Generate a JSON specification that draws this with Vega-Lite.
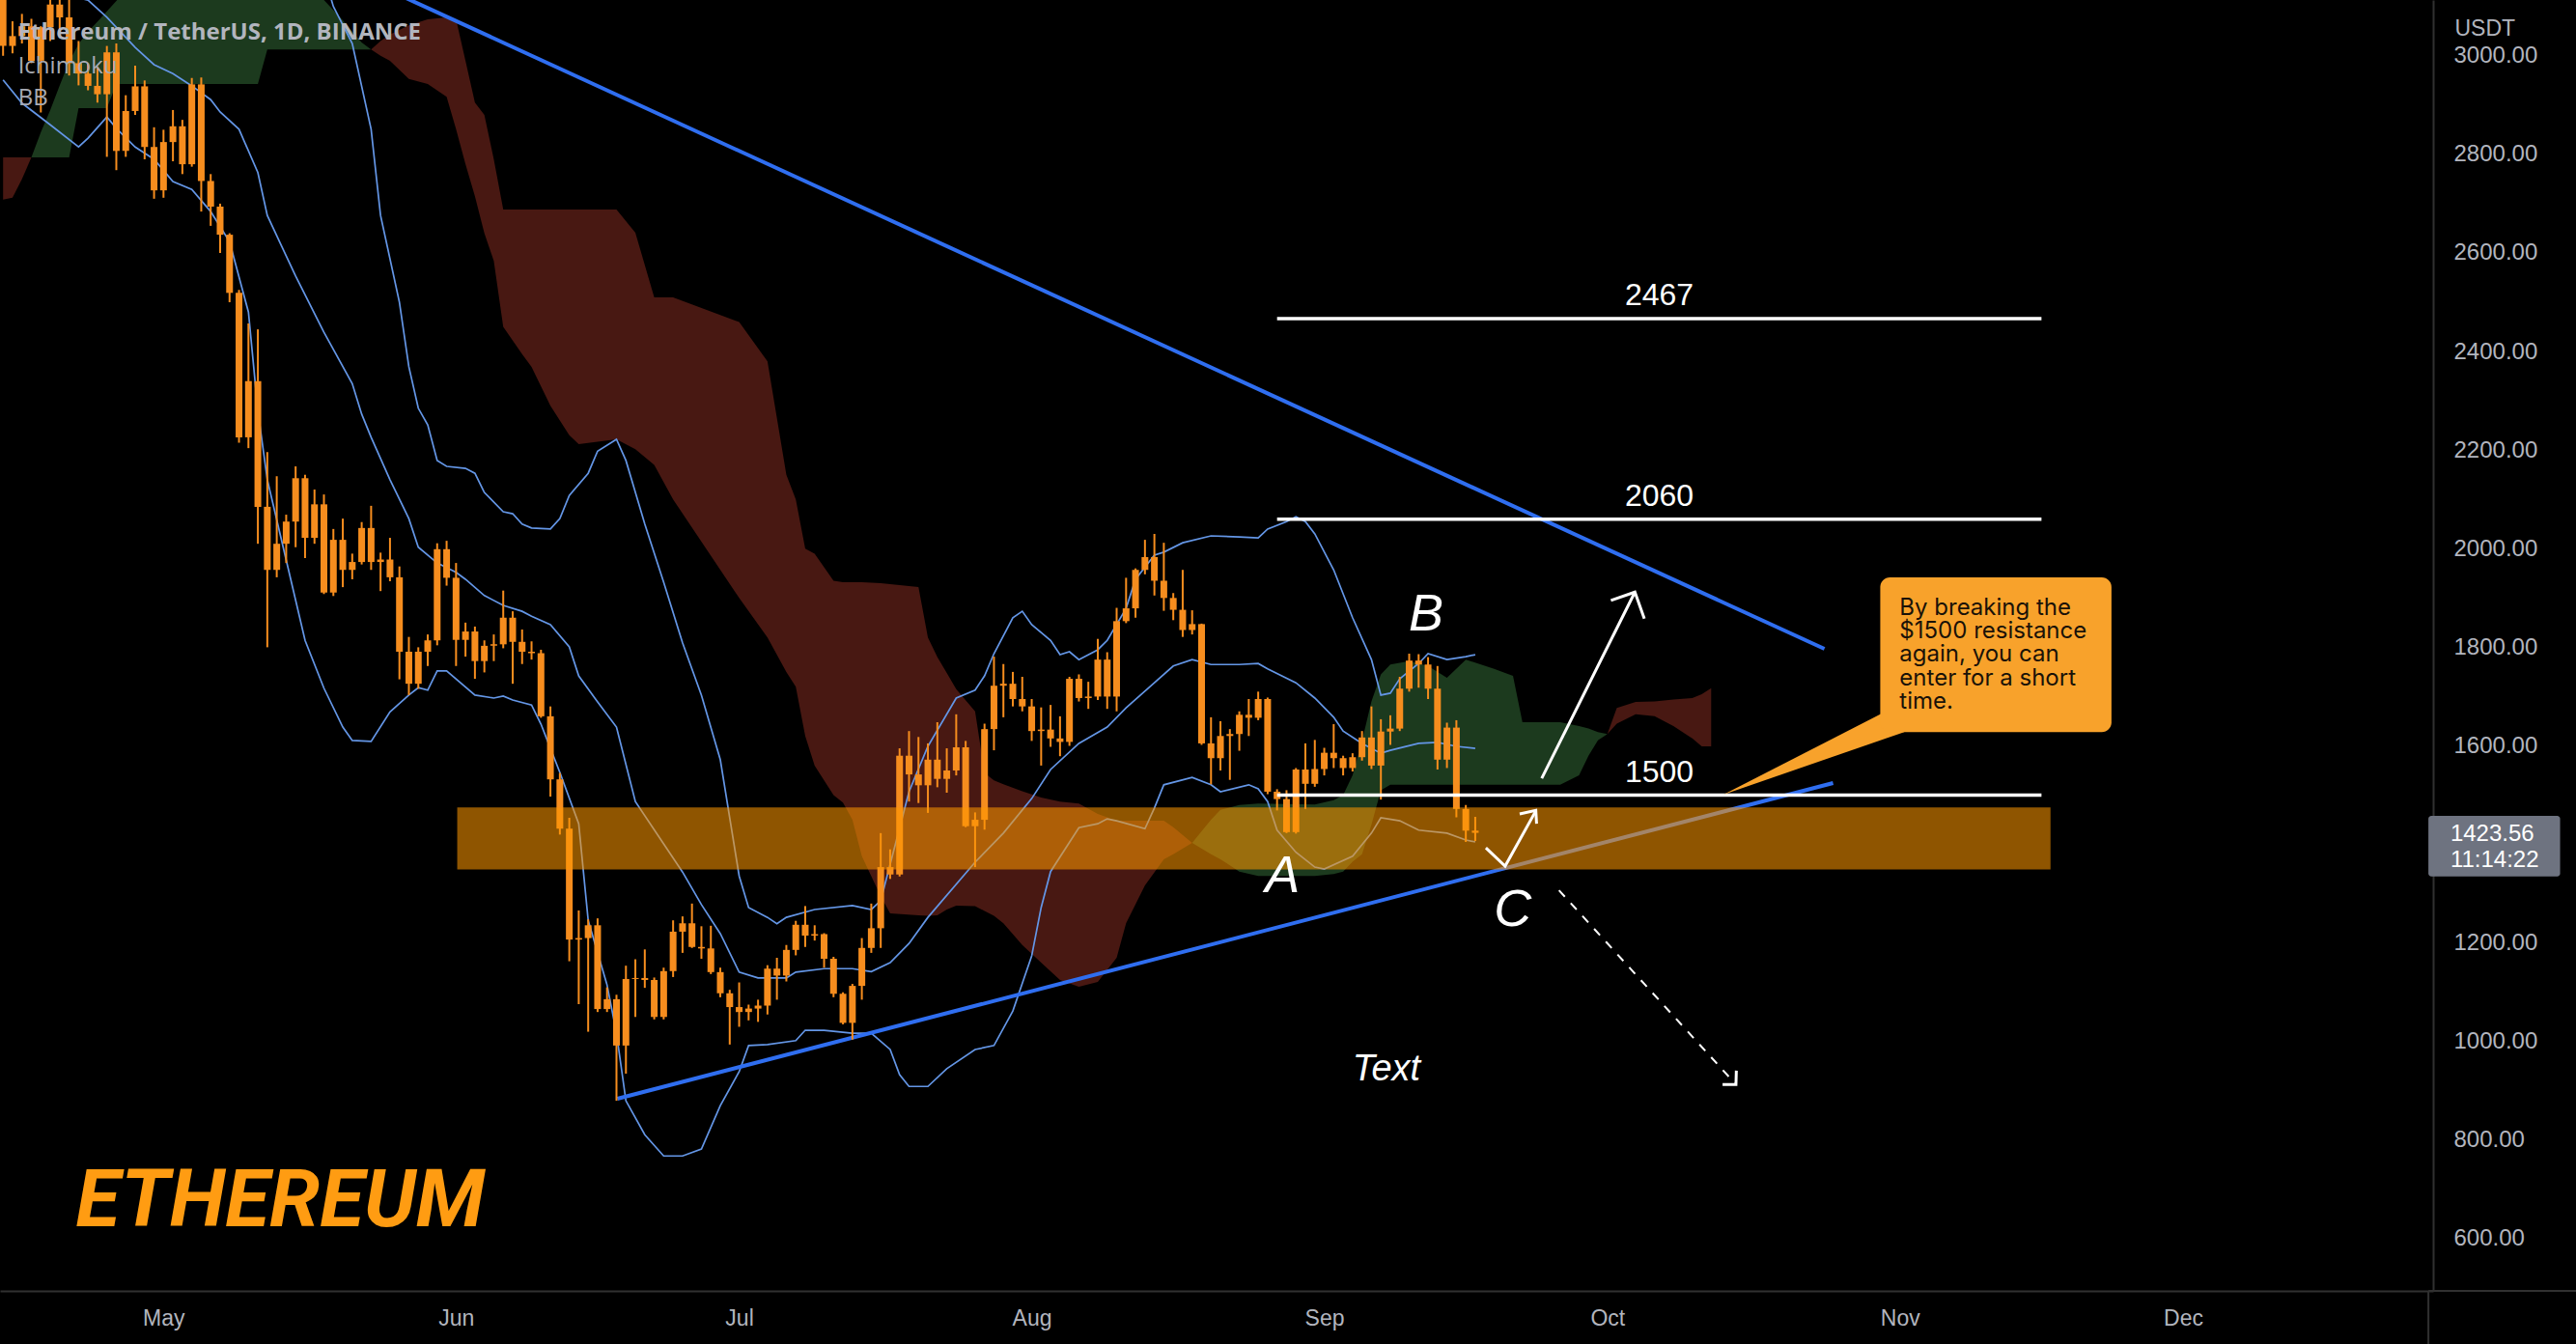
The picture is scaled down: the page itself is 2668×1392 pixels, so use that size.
{
"$schema":"https://vega.github.io/schema/vega-lite/v6.json",
"width":2520,"height":1337,
"autosize":{"type":"none"},
"padding":{"left":0,"top":0,"right":148,"bottom":55},
"background":"#000000",
"config":{"view":{"stroke":null},
"axisX":{"ticks":false,"grid":false,"domainColor":"#303030","domainWidth":2,"labelColor":"#b2b5be","labelFont":"Liberation Sans","labelFontSize":23,"labelPadding":17,"labelFlush":false,"labelOverlap":false,"title":null},
"axisY":{"ticks":false,"grid":false,"domainColor":"#303030","domainWidth":2,"labelColor":"#b2b5be","labelFont":"Liberation Sans","labelFontSize":24,"labelAlign":"left","labelPadding":21,"labelFlush":false,"labelOverlap":false}},
"datasets":{
"candles":[
{"d":"2022-04-14","o":3118,"h":3145,"l":3000,"c":3020},
{"d":"2022-04-15","o":3020,"h":3070,"l":3005,"c":3040},
{"d":"2022-04-16","o":3040,"h":3085,"l":3025,"c":3060},
{"d":"2022-04-17","o":3060,"h":3075,"l":2985,"c":2990},
{"d":"2022-04-18","o":2990,"h":3060,"l":2885,"c":3058},
{"d":"2022-04-19","o":3058,"h":3125,"l":3030,"c":3104},
{"d":"2022-04-20","o":3104,"h":3170,"l":3045,"c":3078},
{"d":"2022-04-21","o":3078,"h":3190,"l":2960,"c":2985},
{"d":"2022-04-22","o":2985,"h":3030,"l":2940,"c":2964},
{"d":"2022-04-23","o":2964,"h":2985,"l":2930,"c":2939},
{"d":"2022-04-24","o":2939,"h":2975,"l":2905,"c":2922},
{"d":"2022-04-25","o":2922,"h":3020,"l":2795,"c":3007},
{"d":"2022-04-26","o":3007,"h":3025,"l":2768,"c":2807},
{"d":"2022-04-27","o":2807,"h":2920,"l":2795,"c":2888},
{"d":"2022-04-28","o":2888,"h":2980,"l":2880,"c":2938},
{"d":"2022-04-29","o":2938,"h":2950,"l":2790,"c":2815},
{"d":"2022-04-30","o":2815,"h":2855,"l":2710,"c":2727},
{"d":"2022-05-01","o":2727,"h":2850,"l":2712,"c":2825},
{"d":"2022-05-02","o":2825,"h":2890,"l":2786,"c":2857},
{"d":"2022-05-03","o":2857,"h":2870,"l":2760,"c":2780},
{"d":"2022-05-04","o":2780,"h":2955,"l":2775,"c":2942},
{"d":"2022-05-05","o":2942,"h":2956,"l":2684,"c":2746},
{"d":"2022-05-06","o":2746,"h":2760,"l":2655,"c":2694},
{"d":"2022-05-07","o":2694,"h":2700,"l":2600,"c":2637},
{"d":"2022-05-08","o":2637,"h":2640,"l":2500,"c":2519},
{"d":"2022-05-09","o":2519,"h":2525,"l":2215,"c":2226},
{"d":"2022-05-10","o":2226,"h":2457,"l":2204,"c":2340},
{"d":"2022-05-11","o":2340,"h":2445,"l":2010,"c":2085},
{"d":"2022-05-12","o":2085,"h":2196,"l":1800,"c":1957},
{"d":"2022-05-13","o":1957,"h":2147,"l":1942,"c":2010},
{"d":"2022-05-14","o":2010,"h":2069,"l":1971,"c":2055},
{"d":"2022-05-15","o":2055,"h":2167,"l":2003,"c":2143},
{"d":"2022-05-16","o":2143,"h":2150,"l":1981,"c":2022},
{"d":"2022-05-17","o":2022,"h":2120,"l":2010,"c":2090},
{"d":"2022-05-18","o":2090,"h":2110,"l":1908,"c":1911},
{"d":"2022-05-19","o":1911,"h":2040,"l":1904,"c":2018},
{"d":"2022-05-20","o":2018,"h":2061,"l":1922,"c":1957},
{"d":"2022-05-21","o":1957,"h":1990,"l":1938,"c":1973},
{"d":"2022-05-22","o":1973,"h":2054,"l":1968,"c":2042},
{"d":"2022-05-23","o":2042,"h":2087,"l":1957,"c":1973},
{"d":"2022-05-24","o":1973,"h":1992,"l":1914,"c":1978},
{"d":"2022-05-25","o":1978,"h":2022,"l":1934,"c":1942},
{"d":"2022-05-26","o":1942,"h":1964,"l":1735,"c":1791},
{"d":"2022-05-27","o":1791,"h":1821,"l":1703,"c":1726},
{"d":"2022-05-28","o":1726,"h":1800,"l":1716,"c":1791},
{"d":"2022-05-29","o":1791,"h":1826,"l":1762,"c":1814},
{"d":"2022-05-30","o":1814,"h":2011,"l":1804,"c":1999},
{"d":"2022-05-31","o":1999,"h":2016,"l":1925,"c":1941},
{"d":"2022-06-01","o":1941,"h":1971,"l":1762,"c":1815},
{"d":"2022-06-02","o":1815,"h":1850,"l":1781,"c":1832},
{"d":"2022-06-03","o":1832,"h":1842,"l":1736,"c":1772},
{"d":"2022-06-04","o":1772,"h":1814,"l":1749,"c":1803},
{"d":"2022-06-05","o":1803,"h":1826,"l":1772,"c":1806},
{"d":"2022-06-06","o":1806,"h":1915,"l":1798,"c":1860},
{"d":"2022-06-07","o":1860,"h":1873,"l":1726,"c":1811},
{"d":"2022-06-08","o":1811,"h":1836,"l":1766,"c":1791},
{"d":"2022-06-09","o":1791,"h":1812,"l":1775,"c":1788},
{"d":"2022-06-10","o":1788,"h":1795,"l":1657,"c":1660},
{"d":"2022-06-11","o":1660,"h":1680,"l":1497,"c":1532},
{"d":"2022-06-12","o":1532,"h":1545,"l":1420,"c":1432},
{"d":"2022-06-13","o":1432,"h":1454,"l":1163,"c":1207},
{"d":"2022-06-14","o":1207,"h":1266,"l":1076,"c":1210},
{"d":"2022-06-15","o":1210,"h":1248,"l":1020,"c":1236},
{"d":"2022-06-16","o":1236,"h":1250,"l":1060,"c":1066},
{"d":"2022-06-17","o":1066,"h":1110,"l":1060,"c":1086},
{"d":"2022-06-18","o":1086,"h":1095,"l":880,"c":992},
{"d":"2022-06-19","o":992,"h":1154,"l":935,"c":1127},
{"d":"2022-06-20","o":1127,"h":1167,"l":1050,"c":1129},
{"d":"2022-06-21","o":1129,"h":1187,"l":1109,"c":1125},
{"d":"2022-06-22","o":1125,"h":1130,"l":1045,"c":1050},
{"d":"2022-06-23","o":1050,"h":1150,"l":1045,"c":1143},
{"d":"2022-06-24","o":1143,"h":1246,"l":1131,"c":1223},
{"d":"2022-06-25","o":1223,"h":1254,"l":1180,"c":1240},
{"d":"2022-06-26","o":1240,"h":1280,"l":1190,"c":1192},
{"d":"2022-06-27","o":1192,"h":1234,"l":1168,"c":1189},
{"d":"2022-06-28","o":1189,"h":1235,"l":1137,"c":1141},
{"d":"2022-06-29","o":1141,"h":1150,"l":1090,"c":1098},
{"d":"2022-06-30","o":1098,"h":1105,"l":994,"c":1070},
{"d":"2022-07-01","o":1070,"h":1120,"l":1030,"c":1060},
{"d":"2022-07-02","o":1060,"h":1075,"l":1043,"c":1067},
{"d":"2022-07-03","o":1067,"h":1085,"l":1040,"c":1073},
{"d":"2022-07-04","o":1073,"h":1155,"l":1055,"c":1148},
{"d":"2022-07-05","o":1148,"h":1170,"l":1085,"c":1134},
{"d":"2022-07-06","o":1134,"h":1196,"l":1122,"c":1186},
{"d":"2022-07-07","o":1186,"h":1245,"l":1175,"c":1237},
{"d":"2022-07-08","o":1237,"h":1275,"l":1192,"c":1215},
{"d":"2022-07-09","o":1215,"h":1236,"l":1205,"c":1218},
{"d":"2022-07-10","o":1218,"h":1220,"l":1150,"c":1168},
{"d":"2022-07-11","o":1168,"h":1172,"l":1090,"c":1097},
{"d":"2022-07-12","o":1097,"h":1100,"l":1035,"c":1038},
{"d":"2022-07-13","o":1038,"h":1117,"l":1004,"c":1113},
{"d":"2022-07-14","o":1113,"h":1210,"l":1085,"c":1190},
{"d":"2022-07-15","o":1190,"h":1280,"l":1180,"c":1230},
{"d":"2022-07-16","o":1230,"h":1423,"l":1190,"c":1354},
{"d":"2022-07-17","o":1354,"h":1390,"l":1330,"c":1339},
{"d":"2022-07-18","o":1339,"h":1595,"l":1335,"c":1580},
{"d":"2022-07-19","o":1580,"h":1630,"l":1487,"c":1542},
{"d":"2022-07-20","o":1542,"h":1618,"l":1484,"c":1520},
{"d":"2022-07-21","o":1520,"h":1605,"l":1464,"c":1572},
{"d":"2022-07-22","o":1572,"h":1648,"l":1516,"c":1533},
{"d":"2022-07-23","o":1533,"h":1595,"l":1505,"c":1550},
{"d":"2022-07-24","o":1550,"h":1664,"l":1540,"c":1597},
{"d":"2022-07-25","o":1597,"h":1610,"l":1435,"c":1437},
{"d":"2022-07-26","o":1437,"h":1465,"l":1354,"c":1450},
{"d":"2022-07-27","o":1450,"h":1645,"l":1430,"c":1634},
{"d":"2022-07-28","o":1634,"h":1781,"l":1591,"c":1722},
{"d":"2022-07-29","o":1722,"h":1766,"l":1658,"c":1726},
{"d":"2022-07-30","o":1726,"h":1750,"l":1680,"c":1695},
{"d":"2022-07-31","o":1695,"h":1740,"l":1670,"c":1680},
{"d":"2022-08-01","o":1680,"h":1695,"l":1610,"c":1630},
{"d":"2022-08-02","o":1630,"h":1678,"l":1560,"c":1633},
{"d":"2022-08-03","o":1633,"h":1683,"l":1598,"c":1615},
{"d":"2022-08-04","o":1615,"h":1660,"l":1579,"c":1608},
{"d":"2022-08-05","o":1608,"h":1740,"l":1600,"c":1736},
{"d":"2022-08-06","o":1736,"h":1745,"l":1690,"c":1697},
{"d":"2022-08-07","o":1697,"h":1730,"l":1675,"c":1700},
{"d":"2022-08-08","o":1700,"h":1817,"l":1693,"c":1775},
{"d":"2022-08-09","o":1775,"h":1790,"l":1675,"c":1700},
{"d":"2022-08-10","o":1700,"h":1880,"l":1670,"c":1853},
{"d":"2022-08-11","o":1853,"h":1941,"l":1849,"c":1879},
{"d":"2022-08-12","o":1879,"h":1960,"l":1860,"c":1957},
{"d":"2022-08-13","o":1957,"h":2018,"l":1948,"c":1983},
{"d":"2022-08-14","o":1983,"h":2030,"l":1905,"c":1935},
{"d":"2022-08-15","o":1935,"h":2012,"l":1874,"c":1900},
{"d":"2022-08-16","o":1900,"h":1910,"l":1855,"c":1876},
{"d":"2022-08-17","o":1876,"h":1957,"l":1821,"c":1835},
{"d":"2022-08-18","o":1835,"h":1875,"l":1826,"c":1847},
{"d":"2022-08-19","o":1847,"h":1848,"l":1602,"c":1605},
{"d":"2022-08-20","o":1605,"h":1658,"l":1522,"c":1575},
{"d":"2022-08-21","o":1575,"h":1650,"l":1550,"c":1620},
{"d":"2022-08-22","o":1620,"h":1634,"l":1531,"c":1624},
{"d":"2022-08-23","o":1624,"h":1670,"l":1590,"c":1663},
{"d":"2022-08-24","o":1663,"h":1695,"l":1620,"c":1657},
{"d":"2022-08-25","o":1657,"h":1710,"l":1652,"c":1695},
{"d":"2022-08-26","o":1695,"h":1698,"l":1502,"c":1507},
{"d":"2022-08-27","o":1507,"h":1512,"l":1469,"c":1492},
{"d":"2022-08-28","o":1492,"h":1510,"l":1423,"c":1425},
{"d":"2022-08-29","o":1425,"h":1555,"l":1422,"c":1552},
{"d":"2022-08-30","o":1552,"h":1605,"l":1472,"c":1523},
{"d":"2022-08-31","o":1523,"h":1612,"l":1517,"c":1553},
{"d":"2022-09-01","o":1553,"h":1596,"l":1540,"c":1586},
{"d":"2022-09-02","o":1586,"h":1644,"l":1555,"c":1575},
{"d":"2022-09-03","o":1575,"h":1580,"l":1540,"c":1555},
{"d":"2022-09-04","o":1555,"h":1585,"l":1548,"c":1577},
{"d":"2022-09-05","o":1577,"h":1630,"l":1570,"c":1617},
{"d":"2022-09-06","o":1617,"h":1680,"l":1553,"c":1560},
{"d":"2022-09-07","o":1560,"h":1654,"l":1491,"c":1629},
{"d":"2022-09-08","o":1629,"h":1662,"l":1602,"c":1635},
{"d":"2022-09-09","o":1635,"h":1740,"l":1630,"c":1716},
{"d":"2022-09-10","o":1716,"h":1787,"l":1710,"c":1773},
{"d":"2022-09-11","o":1773,"h":1786,"l":1718,"c":1765},
{"d":"2022-09-12","o":1765,"h":1780,"l":1695,"c":1716},
{"d":"2022-09-13","o":1716,"h":1762,"l":1552,"c":1572},
{"d":"2022-09-14","o":1572,"h":1647,"l":1555,"c":1637},
{"d":"2022-09-15","o":1637,"h":1652,"l":1455,"c":1472},
{"d":"2022-09-16","o":1472,"h":1480,"l":1405,"c":1428},
{"d":"2022-09-17","o":1428,"h":1456,"l":1407,"c":1423.56}
],
"cloud":[
{"d":"2022-04-14","seg":"r0","kind":"down","hi":2794,"lo":2708},
{"d":"2022-04-15","seg":"r0","kind":"down","hi":2794,"lo":2712},
{"d":"2022-04-16","seg":"r0","kind":"down","hi":2794,"lo":2750},
{"d":"2022-04-17","seg":"r0","kind":"down","hi":2794,"lo":2794},
{"d":"2022-04-17","seg":"g1","kind":"up","hi":2794,"lo":2794},
{"d":"2022-04-18","seg":"g1","kind":"up","hi":2845,"lo":2794},
{"d":"2022-04-19","seg":"g1","kind":"up","hi":2890,"lo":2794},
{"d":"2022-04-20","seg":"g1","kind":"up","hi":2940,"lo":2794},
{"d":"2022-04-21","seg":"g1","kind":"up","hi":2988,"lo":2794},
{"d":"2022-04-22","seg":"g1","kind":"up","hi":3024,"lo":2894},
{"d":"2022-04-23","seg":"g1","kind":"up","hi":3049,"lo":2894},
{"d":"2022-04-24","seg":"g1","kind":"up","hi":3069,"lo":2894},
{"d":"2022-04-25","seg":"g1","kind":"up","hi":3090,"lo":2894},
{"d":"2022-04-26","seg":"g1","kind":"up","hi":3111,"lo":2943},
{"d":"2022-04-28","seg":"g1","kind":"up","hi":3160,"lo":2943},
{"d":"2022-05-11","seg":"g1","kind":"up","hi":3200,"lo":2943},
{"d":"2022-05-12","seg":"g1","kind":"up","hi":3200,"lo":3013},
{"d":"2022-05-17","seg":"g1","kind":"up","hi":3160,"lo":3013},
{"d":"2022-05-18","seg":"g1","kind":"up","hi":3113,"lo":3013},
{"d":"2022-05-20","seg":"g1","kind":"up","hi":3072,"lo":3013},
{"d":"2022-05-22","seg":"g1","kind":"up","hi":3027,"lo":3013},
{"d":"2022-05-23","seg":"g1","kind":"up","hi":3013,"lo":3013},
{"d":"2022-05-23","seg":"r1","kind":"down","hi":3013,"lo":3013},
{"d":"2022-05-24","seg":"r1","kind":"down","hi":3030,"lo":3000},
{"d":"2022-05-25","seg":"r1","kind":"down","hi":3043,"lo":2990},
{"d":"2022-05-27","seg":"r1","kind":"down","hi":3062,"lo":2953},
{"d":"2022-05-29","seg":"r1","kind":"down","hi":3074,"lo":2943},
{"d":"2022-05-31","seg":"r1","kind":"down","hi":3078,"lo":2917},
{"d":"2022-06-01","seg":"r1","kind":"down","hi":3074,"lo":2851},
{"d":"2022-06-02","seg":"r1","kind":"down","hi":2990,"lo":2780},
{"d":"2022-06-03","seg":"r1","kind":"down","hi":2905,"lo":2715},
{"d":"2022-06-04","seg":"r1","kind":"down","hi":2880,"lo":2640},
{"d":"2022-06-05","seg":"r1","kind":"down","hi":2790,"lo":2584},
{"d":"2022-06-06","seg":"r1","kind":"down","hi":2688,"lo":2450},
{"d":"2022-06-08","seg":"r1","kind":"down","hi":2688,"lo":2395},
{"d":"2022-06-09","seg":"r1","kind":"down","hi":2688,"lo":2369},
{"d":"2022-06-11","seg":"r1","kind":"down","hi":2688,"lo":2290},
{"d":"2022-06-13","seg":"r1","kind":"down","hi":2688,"lo":2230},
{"d":"2022-06-14","seg":"r1","kind":"down","hi":2688,"lo":2212},
{"d":"2022-06-18","seg":"r1","kind":"down","hi":2688,"lo":2222},
{"d":"2022-06-20","seg":"r1","kind":"down","hi":2641,"lo":2202},
{"d":"2022-06-22","seg":"r1","kind":"down","hi":2510,"lo":2170},
{"d":"2022-06-24","seg":"r1","kind":"down","hi":2510,"lo":2100},
{"d":"2022-07-01","seg":"r1","kind":"down","hi":2460,"lo":1900},
{"d":"2022-07-04","seg":"r1","kind":"down","hi":2380,"lo":1820},
{"d":"2022-07-06","seg":"r1","kind":"down","hi":2150,"lo":1750},
{"d":"2022-07-07","seg":"r1","kind":"down","hi":2100,"lo":1720},
{"d":"2022-07-08","seg":"r1","kind":"down","hi":2000,"lo":1620},
{"d":"2022-07-09","seg":"r1","kind":"down","hi":1990,"lo":1560},
{"d":"2022-07-11","seg":"r1","kind":"down","hi":1935,"lo":1500},
{"d":"2022-07-12","seg":"r1","kind":"down","hi":1932,"lo":1485},
{"d":"2022-07-13","seg":"r1","kind":"down","hi":1932,"lo":1450},
{"d":"2022-07-14","seg":"r1","kind":"down","hi":1932,"lo":1376},
{"d":"2022-07-16","seg":"r1","kind":"down","hi":1930,"lo":1295},
{"d":"2022-07-17","seg":"r1","kind":"down","hi":1928,"lo":1260},
{"d":"2022-07-20","seg":"r1","kind":"down","hi":1922,"lo":1256},
{"d":"2022-07-21","seg":"r1","kind":"down","hi":1820,"lo":1255},
{"d":"2022-07-22","seg":"r1","kind":"down","hi":1780,"lo":1256},
{"d":"2022-07-23","seg":"r1","kind":"down","hi":1748,"lo":1268},
{"d":"2022-07-24","seg":"r1","kind":"down","hi":1715,"lo":1276},
{"d":"2022-07-26","seg":"r1","kind":"down","hi":1670,"lo":1275},
{"d":"2022-07-27","seg":"r1","kind":"down","hi":1545,"lo":1265},
{"d":"2022-07-28","seg":"r1","kind":"down","hi":1530,"lo":1255},
{"d":"2022-07-29","seg":"r1","kind":"down","hi":1522,"lo":1240},
{"d":"2022-07-31","seg":"r1","kind":"down","hi":1508,"lo":1196},
{"d":"2022-08-02","seg":"r1","kind":"down","hi":1495,"lo":1160},
{"d":"2022-08-04","seg":"r1","kind":"down","hi":1487,"lo":1125},
{"d":"2022-08-06","seg":"r1","kind":"down","hi":1483,"lo":1111},
{"d":"2022-08-08","seg":"r1","kind":"down","hi":1462,"lo":1121},
{"d":"2022-08-10","seg":"r1","kind":"down","hi":1448,"lo":1170},
{"d":"2022-08-11","seg":"r1","kind":"down","hi":1448,"lo":1240},
{"d":"2022-08-13","seg":"r1","kind":"down","hi":1448,"lo":1317},
{"d":"2022-08-15","seg":"r1","kind":"down","hi":1448,"lo":1370},
{"d":"2022-08-16","seg":"r1","kind":"down","hi":1435,"lo":1380},
{"d":"2022-08-18","seg":"r1","kind":"down","hi":1403,"lo":1403},
{"d":"2022-08-18","seg":"g2","kind":"up","hi":1403,"lo":1403},
{"d":"2022-08-20","seg":"g2","kind":"up","hi":1450,"lo":1380},
{"d":"2022-08-21","seg":"g2","kind":"up","hi":1470,"lo":1370},
{"d":"2022-08-23","seg":"g2","kind":"up","hi":1480,"lo":1345},
{"d":"2022-08-25","seg":"g2","kind":"up","hi":1483,"lo":1336},
{"d":"2022-08-31","seg":"g2","kind":"up","hi":1481,"lo":1336},
{"d":"2022-09-02","seg":"g2","kind":"up","hi":1490,"lo":1340},
{"d":"2022-09-03","seg":"g2","kind":"up","hi":1500,"lo":1345},
{"d":"2022-09-04","seg":"g2","kind":"up","hi":1540,"lo":1365},
{"d":"2022-09-05","seg":"g2","kind":"up","hi":1610,"lo":1380},
{"d":"2022-09-06","seg":"g2","kind":"up","hi":1690,"lo":1440},
{"d":"2022-09-07","seg":"g2","kind":"up","hi":1745,"lo":1510},
{"d":"2022-09-08","seg":"g2","kind":"up","hi":1765,"lo":1521},
{"d":"2022-09-10","seg":"g2","kind":"up","hi":1772,"lo":1521},
{"d":"2022-09-12","seg":"g2","kind":"up","hi":1762,"lo":1521},
{"d":"2022-09-14","seg":"g2","kind":"up","hi":1738,"lo":1521},
{"d":"2022-09-16","seg":"g2","kind":"up","hi":1775,"lo":1521},
{"d":"2022-09-19","seg":"g2","kind":"up","hi":1756,"lo":1521},
{"d":"2022-09-21","seg":"g2","kind":"up","hi":1742,"lo":1521},
{"d":"2022-09-22","seg":"g2","kind":"up","hi":1648,"lo":1521},
{"d":"2022-09-26","seg":"g2","kind":"up","hi":1648,"lo":1521},
{"d":"2022-09-28","seg":"g2","kind":"up","hi":1640,"lo":1540},
{"d":"2022-09-29","seg":"g2","kind":"up","hi":1635,"lo":1580},
{"d":"2022-09-30","seg":"g2","kind":"up","hi":1628,"lo":1611},
{"d":"2022-10-01","seg":"g2","kind":"up","hi":1624,"lo":1624},
{"d":"2022-10-01","seg":"r2","kind":"down","hi":1624,"lo":1624},
{"d":"2022-10-02","seg":"r2","kind":"down","hi":1677,"lo":1645},
{"d":"2022-10-04","seg":"r2","kind":"down","hi":1689,"lo":1664},
{"d":"2022-10-06","seg":"r2","kind":"down","hi":1690,"lo":1660},
{"d":"2022-10-08","seg":"r2","kind":"down","hi":1694,"lo":1640},
{"d":"2022-10-10","seg":"r2","kind":"down","hi":1697,"lo":1615},
{"d":"2022-10-11","seg":"r2","kind":"down","hi":1705,"lo":1599},
{"d":"2022-10-12","seg":"r2","kind":"down","hi":1717,"lo":1599}
],
"bb":[
{"d":"2022-05-17","b":"u","p":3230},{"d":"2022-05-19","b":"u","p":3100},{"d":"2022-05-21","b":"u","p":3025},{"d":"2022-05-23","b":"u","p":2851},{"d":"2022-05-24","b":"u","p":2676},{"d":"2022-05-26","b":"u","p":2500},{"d":"2022-05-27","b":"u","p":2369},{"d":"2022-05-28","b":"u","p":2285},{"d":"2022-05-29","b":"u","p":2251},{"d":"2022-05-30","b":"u","p":2179},{"d":"2022-05-31","b":"u","p":2167},{"d":"2022-06-02","b":"u","p":2163},{"d":"2022-06-03","b":"u","p":2153},{"d":"2022-06-04","b":"u","p":2114},{"d":"2022-06-06","b":"u","p":2075},{"d":"2022-06-07","b":"u","p":2071},{"d":"2022-06-08","b":"u","p":2050},{"d":"2022-06-09","b":"u","p":2042},{"d":"2022-06-11","b":"u","p":2040},{"d":"2022-06-12","b":"u","p":2061},{"d":"2022-06-13","b":"u","p":2108},{"d":"2022-06-15","b":"u","p":2153},{"d":"2022-06-16","b":"u","p":2198},{"d":"2022-06-18","b":"u","p":2222},{"d":"2022-06-19","b":"u","p":2179},{"d":"2022-06-21","b":"u","p":2050},{"d":"2022-06-23","b":"u","p":1932},{"d":"2022-06-25","b":"u","p":1809},{"d":"2022-06-27","b":"u","p":1703},{"d":"2022-06-29","b":"u","p":1572},{"d":"2022-06-30","b":"u","p":1454},{"d":"2022-07-01","b":"u","p":1336},{"d":"2022-07-02","b":"u","p":1272},{"d":"2022-07-04","b":"u","p":1252},{"d":"2022-07-05","b":"u","p":1239},{"d":"2022-07-06","b":"u","p":1252},{"d":"2022-07-09","b":"u","p":1268},{"d":"2022-07-13","b":"u","p":1276},{"d":"2022-07-15","b":"u","p":1268},{"d":"2022-07-16","b":"u","p":1286},{"d":"2022-07-19","b":"u","p":1507},{"d":"2022-07-21","b":"u","p":1599},{"d":"2022-07-24","b":"u","p":1697},{"d":"2022-07-26","b":"u","p":1713},{"d":"2022-07-27","b":"u","p":1742},{"d":"2022-07-28","b":"u","p":1787},{"d":"2022-07-30","b":"u","p":1860},{"d":"2022-07-31","b":"u","p":1873},{"d":"2022-08-01","b":"u","p":1846},{"d":"2022-08-03","b":"u","p":1814},{"d":"2022-08-04","b":"u","p":1785},{"d":"2022-08-05","b":"u","p":1791},{"d":"2022-08-06","b":"u","p":1775},{"d":"2022-08-08","b":"u","p":1795},{"d":"2022-08-09","b":"u","p":1814},{"d":"2022-08-11","b":"u","p":1879},{"d":"2022-08-12","b":"u","p":1938},{"d":"2022-08-14","b":"u","p":1987},{"d":"2022-08-15","b":"u","p":1993},{"d":"2022-08-17","b":"u","p":2012},{"d":"2022-08-20","b":"u","p":2026},{"d":"2022-08-23","b":"u","p":2024},{"d":"2022-08-25","b":"u","p":2022},{"d":"2022-08-26","b":"u","p":2040},{"d":"2022-08-28","b":"u","p":2055},{"d":"2022-08-29","b":"u","p":2065},{"d":"2022-08-30","b":"u","p":2055},{"d":"2022-08-31","b":"u","p":2030},{"d":"2022-09-02","b":"u","p":1957},{"d":"2022-09-04","b":"u","p":1860},{"d":"2022-09-06","b":"u","p":1775},{"d":"2022-09-07","b":"u","p":1703},{"d":"2022-09-08","b":"u","p":1707},{"d":"2022-09-09","b":"u","p":1736},{"d":"2022-09-11","b":"u","p":1767},{"d":"2022-09-12","b":"u","p":1787},{"d":"2022-09-14","b":"u","p":1775},{"d":"2022-09-16","b":"u","p":1781},{"d":"2022-09-17","b":"u","p":1785},
{"d":"2022-04-18","b":"m","p":3135},{"d":"2022-04-23","b":"m","p":3113},{"d":"2022-04-25","b":"m","p":3078},{"d":"2022-04-28","b":"m","p":3017},{"d":"2022-04-30","b":"m","p":2982},{"d":"2022-05-02","b":"m","p":2964},{"d":"2022-05-04","b":"m","p":2939},{"d":"2022-05-06","b":"m","p":2911},{"d":"2022-05-07","b":"m","p":2886},{"d":"2022-05-09","b":"m","p":2851},{"d":"2022-05-11","b":"m","p":2763},{"d":"2022-05-12","b":"m","p":2676},{"d":"2022-05-15","b":"m","p":2553},{"d":"2022-05-18","b":"m","p":2439},{"d":"2022-05-21","b":"m","p":2335},{"d":"2022-05-22","b":"m","p":2273},{"d":"2022-05-23","b":"m","p":2226},{"d":"2022-05-25","b":"m","p":2140},{"d":"2022-05-27","b":"m","p":2061},{"d":"2022-05-28","b":"m","p":2003},{"d":"2022-05-30","b":"m","p":1971},{"d":"2022-06-01","b":"m","p":1952},{"d":"2022-06-02","b":"m","p":1938},{"d":"2022-06-04","b":"m","p":1905},{"d":"2022-06-06","b":"m","p":1885},{"d":"2022-06-08","b":"m","p":1873},{"d":"2022-06-09","b":"m","p":1863},{"d":"2022-06-11","b":"m","p":1846},{"d":"2022-06-13","b":"m","p":1801},{"d":"2022-06-14","b":"m","p":1742},{"d":"2022-06-16","b":"m","p":1689},{"d":"2022-06-18","b":"m","p":1638},{"d":"2022-06-20","b":"m","p":1487},{"d":"2022-06-25","b":"m","p":1344},{"d":"2022-06-27","b":"m","p":1278},{"d":"2022-06-29","b":"m","p":1219},{"d":"2022-07-01","b":"m","p":1141},{"d":"2022-07-03","b":"m","p":1129},{"d":"2022-07-06","b":"m","p":1129},{"d":"2022-07-07","b":"m","p":1141},{"d":"2022-07-10","b":"m","p":1148},{"d":"2022-07-13","b":"m","p":1148},{"d":"2022-07-15","b":"m","p":1142},{"d":"2022-07-17","b":"m","p":1160},{"d":"2022-07-19","b":"m","p":1199},{"d":"2022-07-21","b":"m","p":1252},{"d":"2022-07-26","b":"m","p":1364},{"d":"2022-07-29","b":"m","p":1423},{"d":"2022-08-01","b":"m","p":1493},{"d":"2022-08-03","b":"m","p":1552},{"d":"2022-08-06","b":"m","p":1605},{"d":"2022-08-09","b":"m","p":1638},{"d":"2022-08-11","b":"m","p":1677},{"d":"2022-08-14","b":"m","p":1728},{"d":"2022-08-16","b":"m","p":1762},{"d":"2022-08-18","b":"m","p":1775},{"d":"2022-08-20","b":"m","p":1765},{"d":"2022-08-23","b":"m","p":1765},{"d":"2022-08-25","b":"m","p":1767},{"d":"2022-08-26","b":"m","p":1756},{"d":"2022-08-29","b":"m","p":1728},{"d":"2022-08-31","b":"m","p":1697},{"d":"2022-09-02","b":"m","p":1658},{"d":"2022-09-03","b":"m","p":1630},{"d":"2022-09-05","b":"m","p":1605},{"d":"2022-09-07","b":"m","p":1585},{"d":"2022-09-08","b":"m","p":1591},{"d":"2022-09-11","b":"m","p":1605},{"d":"2022-09-13","b":"m","p":1607},{"d":"2022-09-15","b":"m","p":1599},{"d":"2022-09-17","b":"m","p":1595},
{"d":"2022-04-14","b":"l","p":2951},{"d":"2022-04-16","b":"l","p":2904},{"d":"2022-04-19","b":"l","p":2860},{"d":"2022-04-22","b":"l","p":2815},{"d":"2022-04-23","b":"l","p":2833},{"d":"2022-04-25","b":"l","p":2876},{"d":"2022-04-26","b":"l","p":2853},{"d":"2022-04-28","b":"l","p":2815},{"d":"2022-04-30","b":"l","p":2790},{"d":"2022-05-02","b":"l","p":2745},{"d":"2022-05-04","b":"l","p":2729},{"d":"2022-05-06","b":"l","p":2684},{"d":"2022-05-08","b":"l","p":2623},{"d":"2022-05-10","b":"l","p":2480},{"d":"2022-05-11","b":"l","p":2280},{"d":"2022-05-12","b":"l","p":2140},{"d":"2022-05-14","b":"l","p":1977},{"d":"2022-05-16","b":"l","p":1814},{"d":"2022-05-18","b":"l","p":1717},{"d":"2022-05-20","b":"l","p":1638},{"d":"2022-05-21","b":"l","p":1611},{"d":"2022-05-23","b":"l","p":1609},{"d":"2022-05-25","b":"l","p":1669},{"d":"2022-05-27","b":"l","p":1703},{"d":"2022-05-28","b":"l","p":1718},{"d":"2022-05-29","b":"l","p":1713},{"d":"2022-05-30","b":"l","p":1752},{"d":"2022-05-31","b":"l","p":1752},{"d":"2022-06-03","b":"l","p":1703},{"d":"2022-06-05","b":"l","p":1697},{"d":"2022-06-06","b":"l","p":1701},{"d":"2022-06-07","b":"l","p":1693},{"d":"2022-06-09","b":"l","p":1683},{"d":"2022-06-10","b":"l","p":1644},{"d":"2022-06-12","b":"l","p":1546},{"d":"2022-06-14","b":"l","p":1442},{"d":"2022-06-15","b":"l","p":1246},{"d":"2022-06-17","b":"l","p":1115},{"d":"2022-06-18","b":"l","p":1017},{"d":"2022-06-19","b":"l","p":880},{"d":"2022-06-21","b":"l","p":811},{"d":"2022-06-23","b":"l","p":768},{"d":"2022-06-25","b":"l","p":768},{"d":"2022-06-27","b":"l","p":782},{"d":"2022-06-29","b":"l","p":870},{"d":"2022-07-01","b":"l","p":939},{"d":"2022-07-02","b":"l","p":992},{"d":"2022-07-04","b":"l","p":994},{"d":"2022-07-07","b":"l","p":1002},{"d":"2022-07-08","b":"l","p":1023},{"d":"2022-07-10","b":"l","p":1023},{"d":"2022-07-13","b":"l","p":1017},{"d":"2022-07-15","b":"l","p":1017},{"d":"2022-07-17","b":"l","p":984},{"d":"2022-07-18","b":"l","p":933},{"d":"2022-07-19","b":"l","p":909},{"d":"2022-07-21","b":"l","p":909},{"d":"2022-07-23","b":"l","p":945},{"d":"2022-07-26","b":"l","p":984},{"d":"2022-07-28","b":"l","p":992},{"d":"2022-07-30","b":"l","p":1062},{"d":"2022-08-01","b":"l","p":1174},{"d":"2022-08-02","b":"l","p":1272},{"d":"2022-08-03","b":"l","p":1345},{"d":"2022-08-06","b":"l","p":1434},{"d":"2022-08-08","b":"l","p":1442},{"d":"2022-08-09","b":"l","p":1452},{"d":"2022-08-10","b":"l","p":1448},{"d":"2022-08-13","b":"l","p":1432},{"d":"2022-08-14","b":"l","p":1474},{"d":"2022-08-15","b":"l","p":1521},{"d":"2022-08-18","b":"l","p":1536},{"d":"2022-08-20","b":"l","p":1521},{"d":"2022-08-21","b":"l","p":1507},{"d":"2022-08-24","b":"l","p":1521},{"d":"2022-08-25","b":"l","p":1513},{"d":"2022-08-26","b":"l","p":1487},{"d":"2022-08-27","b":"l","p":1429},{"d":"2022-08-29","b":"l","p":1384},{"d":"2022-08-31","b":"l","p":1354},{"d":"2022-09-01","b":"l","p":1350},{"d":"2022-09-04","b":"l","p":1376},{"d":"2022-09-06","b":"l","p":1423},{"d":"2022-09-07","b":"l","p":1454},{"d":"2022-09-09","b":"l","p":1448},{"d":"2022-09-11","b":"l","p":1429},{"d":"2022-09-14","b":"l","p":1423},{"d":"2022-09-16","b":"l","p":1409},{"d":"2022-09-17","b":"l","p":1405}
],
"trend":[
{"seg":"down","d":"2022-05-20T00:00:00Z","p":3176},
{"seg":"down","d":"2022-10-24T00:00:00Z","p":1796.8},
{"seg":"up","d":"2022-06-18T02:00:00Z","p":884},
{"seg":"up","d":"2022-10-24T22:00:00Z","p":1524.5}
],
"arrows":[
{"seg":"a1","d":"2022-09-24T01:00:00Z","p":1534},
{"seg":"a1","d":"2022-10-03T22:00:00Z","p":1912},
{"seg":"a2","d":"2022-10-01T09:00:00Z","p":1895},
{"seg":"a2","d":"2022-10-03T22:00:00Z","p":1912},
{"seg":"a2","d":"2022-10-04T22:00:00Z","p":1858},
{"seg":"a3","d":"2022-09-18T03:00:00Z","p":1393},
{"seg":"a3","d":"2022-09-20T04:00:00Z","p":1356},
{"seg":"a3","d":"2022-09-23T10:00:00Z","p":1468},
{"seg":"a4","d":"2022-09-21T17:00:00Z","p":1462},
{"seg":"a4","d":"2022-09-23T10:00:00Z","p":1469},
{"seg":"a4","d":"2022-09-23T12:00:00Z","p":1442},
{"seg":"a5","d":"2022-10-13T05:00:00Z","p":913},
{"seg":"a5","d":"2022-10-14T15:00:00Z","p":913},
{"seg":"a5","d":"2022-10-14T16:00:00Z","p":941}
],
"dash":[
{"d":"2022-09-25T21:00:00Z","p":1307},
{"d":"2022-10-14T15:00:00Z","p":913}
],
"levels":[
{"d1":"2022-08-27","d2":"2022-11-16","dl":"2022-10-06T12:00:00Z","p":2467,"t":"2467"},
{"d1":"2022-08-27","d2":"2022-11-16","dl":"2022-10-06T12:00:00Z","p":2060,"t":"2060"},
{"d1":"2022-08-27","d2":"2022-11-16","dl":"2022-10-06T12:00:00Z","p":1500,"t":"1500"}
]
},
"layer":[
{"data":{"name":"cloud"},"mark":{"type":"area","clip":true},
"encoding":{
"x":{"field":"d","type":"temporal","scale":{"type":"utc","domain":[1649910470400,1672098163200]},
"axis":{"values":[{"year":2022,"month":5,"date":1,"utc":true},{"year":2022,"month":6,"date":1,"utc":true},{"year":2022,"month":7,"date":1,"utc":true},{"year":2022,"month":8,"date":1,"utc":true},{"year":2022,"month":9,"date":1,"utc":true},{"year":2022,"month":10,"date":1,"utc":true},{"year":2022,"month":11,"date":1,"utc":true},{"year":2022,"month":12,"date":1,"utc":true}],"format":"%b","title":null}},
"y":{"field":"hi","type":"quantitative","scale":{"domain":[494.2,3113.2],"nice":false,"zero":false},
"axis":{"orient":"right","values":[600,800,1000,1200,1600,1800,2000,2200,2400,2600,2800,3000],"format":".2f","title":"USDT","titleAngle":0,"titleAlign":"left","titleBaseline":"alphabetic","titleX":22,"titleY":36,"titleColor":"#b2b5be","titleFont":"Liberation Sans","titleFontSize":23,"titleFontWeight":"normal"}},
"y2":{"field":"lo"},
"color":{"field":"kind","type":"nominal","scale":{"domain":["up","down"],"range":["#1c3a1e","#481812"]},"legend":null},
"detail":{"field":"seg"}}},
{"data":{"name":"bb"},"mark":{"type":"line","clip":true,"color":"#6496e6","strokeWidth":1.7},
"encoding":{
"x":{"field":"d","type":"temporal"},
"y":{"field":"p","type":"quantitative"},
"detail":{"field":"b"}}},
{"data":{"name":"trend"},"mark":{"type":"line","clip":true,"color":"#2f6ef0","strokeWidth":4},
"encoding":{
"x":{"field":"d","type":"temporal"},
"y":{"field":"p","type":"quantitative"},
"detail":{"field":"seg"}}},
{"data":{"name":"candles"},"mark":{"type":"rule","clip":true,"color":"#f68d1e","strokeWidth":2},
"encoding":{
"x":{"field":"d","type":"temporal"},
"y":{"field":"l","type":"quantitative"},
"y2":{"field":"h"}}},
{"data":{"name":"candles"},"mark":{"type":"bar","clip":true,"color":"#f68d1e","size":7},
"encoding":{
"x":{"field":"d","type":"temporal"},
"y":{"field":"o","type":"quantitative"},
"y2":{"field":"c"}}},
{"data":{"values":[{"d1":"2022-06-01T03:00:00Z","d2":"2022-11-16T23:00:00Z","p1":1475,"p2":1349}]},
"mark":{"type":"rect","clip":true,"color":"#ff9800","opacity":0.56},
"encoding":{
"x":{"field":"d1","type":"temporal"},
"x2":{"field":"d2"},
"y":{"field":"p1","type":"quantitative"},
"y2":{"field":"p2"}}},
{"data":{"name":"levels"},"mark":{"type":"rule","color":"#ffffff","strokeWidth":3.5},
"encoding":{
"x":{"field":"d1","type":"temporal"},
"x2":{"field":"d2"},
"y":{"field":"p","type":"quantitative"}}},
{"data":{"name":"levels"},"mark":{"type":"text","color":"#ffffff","font":"Liberation Sans","fontSize":32,"align":"center","baseline":"alphabetic","dy":-14},
"encoding":{
"x":{"field":"dl","type":"temporal"},
"y":{"field":"p","type":"quantitative"},
"text":{"field":"t"}}},
{"mark":{"type":"rule","color":"#b2b5be","strokeDash":[2,4],"strokeWidth":1.5,"opacity":0.8},
"encoding":{"y":{"datum":1423.56,"type":"quantitative"}}},
{"data":{"name":"arrows"},"mark":{"type":"line","color":"#ffffff","strokeWidth":3},
"encoding":{
"x":{"field":"d","type":"temporal"},
"y":{"field":"p","type":"quantitative"},
"detail":{"field":"seg"}}},
{"data":{"name":"dash"},"mark":{"type":"line","color":"#ffffff","strokeWidth":2,"strokeDash":[9,9]},
"encoding":{
"x":{"field":"d","type":"temporal"},
"y":{"field":"p","type":"quantitative"}}},
{"data":{"values":[{"d":"2022-08-27T14:00:00Z","p":1334.6,"t":"A"},{"d":"2022-09-11T19:00:00Z","p":1865,"t":"B"},{"d":"2022-09-20T23:00:00Z","p":1266,"t":"C"}]},
"mark":{"type":"text","color":"#ffffff","font":"Liberation Sans","fontStyle":"italic","fontSize":54,"align":"center","baseline":"middle"},
"encoding":{
"x":{"field":"d","type":"temporal"},
"y":{"field":"p","type":"quantitative"},
"text":{"field":"t"}}},
{"data":{"values":[{"d":"2022-09-07T14:00:00Z","p":943,"t":"Text"}]},
"mark":{"type":"text","color":"#ffffff","font":"Liberation Sans","fontStyle":"italic","fontSize":38,"align":"center","baseline":"middle"},
"encoding":{
"x":{"field":"d","type":"temporal"},
"y":{"field":"p","type":"quantitative"},
"text":{"field":"t"}}},
{"data":{"values":[{"d":"2022-04-21T17:00:00Z","p":625,"t":"ETHEREUM"}]},
"mark":{"type":"text","color":"#ff9c12","font":"Roboto","fontWeight":"bold","fontStyle":"italic","fontSize":84,"align":"left","baseline":"alphabetic"},
"encoding":{
"x":{"field":"d","type":"temporal"},
"y":{"field":"p","type":"quantitative"},
"text":{"field":"t"}}},
{"data":{"values":[{"d":"2022-04-15T14:00:00Z","p":3033,"t":"Ethereum / TetherUS, 1D, BINANCE"}]},
"mark":{"type":"text","color":"#b2b5be","font":"Open Sans","fontWeight":"bold","fontSize":24,"align":"left","baseline":"alphabetic"},
"encoding":{
"x":{"field":"d","type":"temporal"},
"y":{"field":"p","type":"quantitative"},
"text":{"field":"t"}}},
{"data":{"values":[{"d":"2022-04-15T14:00:00Z","p":2964,"t":"Ichimoku"},{"d":"2022-04-15T14:00:00Z","p":2899,"t":"BB"}]},
"mark":{"type":"text","color":"#a8abb4","font":"Open Sans","fontSize":24,"align":"left","baseline":"alphabetic"},
"encoding":{
"x":{"field":"d","type":"temporal"},
"y":{"field":"p","type":"quantitative"},
"text":{"field":"t"}}},
{"data":{"values":[{"d":"2022-10-13T07:00:00Z","hi":1501,"lo":1501},{"d":"2022-11-01T11:00:00Z","hi":1689,"lo":1628}]},
"mark":{"type":"area","color":"#f8a22b"},
"encoding":{
"x":{"field":"d","type":"temporal"},
"y":{"field":"hi","type":"quantitative"},
"y2":{"field":"lo"}}},
{"data":{"values":[{"d1":"2022-10-29T22:00:00Z","d2":"2022-11-23T10:00:00Z","p1":1942,"p2":1628}]},
"mark":{"type":"rect","color":"#f8a22b","cornerRadius":10},
"encoding":{
"x":{"field":"d1","type":"temporal"},
"x2":{"field":"d2"},
"y":{"field":"p1","type":"quantitative"},
"y2":{"field":"p2"}}},
{"data":{"values":[{"d":"2022-10-31T23:00:00Z","p":1903,"t":"By breaking the\n$1500 resistance\nagain, you can\nenter for a short\ntime."}]},
"mark":{"type":"text","color":"#1a1208","font":"Inter","fontSize":24,"lineBreak":"\n","lineHeight":24.3,"align":"left","baseline":"top"},
"encoding":{
"x":{"field":"d","type":"temporal"},
"y":{"field":"p","type":"quantitative"},
"text":{"field":"t"}}},
{"data":{"values":[{"d1":"2022-12-27T00:00:00Z","d2":"2023-01-12T00:00:00Z","p1":494.2,"p2":494.2},{"d1":"2022-12-27T00:00:00Z","d2":"2022-12-27T00:00:00Z","p1":494.2,"p2":380}]},
"mark":{"type":"rule","color":"#303030","strokeWidth":2},
"encoding":{
"x":{"field":"d1","type":"temporal"},
"x2":{"field":"d2"},
"y":{"field":"p1","type":"quantitative"},
"y2":{"field":"p2"}}},
{"data":{"values":[{"d1":"2022-12-27T00:00:00Z","d2":"2023-01-09T23:00:00Z","p1":1458,"p2":1335}]},
"mark":{"type":"rect","color":"#6e7380","cornerRadius":3},
"encoding":{
"x":{"field":"d1","type":"temporal"},
"x2":{"field":"d2"},
"y":{"field":"p1","type":"quantitative"},
"y2":{"field":"p2"}}},
{"data":{"values":[{"d":"2022-12-29T08:00:00Z","p":1420.8,"t":"1423.56"},{"d":"2022-12-29T08:00:00Z","p":1368,"t":"11:14:22"}]},
"mark":{"type":"text","color":"#ffffff","font":"Liberation Sans","fontSize":24,"align":"left","baseline":"middle"},
"encoding":{
"x":{"field":"d","type":"temporal"},
"y":{"field":"p","type":"quantitative"},
"text":{"field":"t"}}}
]
}
